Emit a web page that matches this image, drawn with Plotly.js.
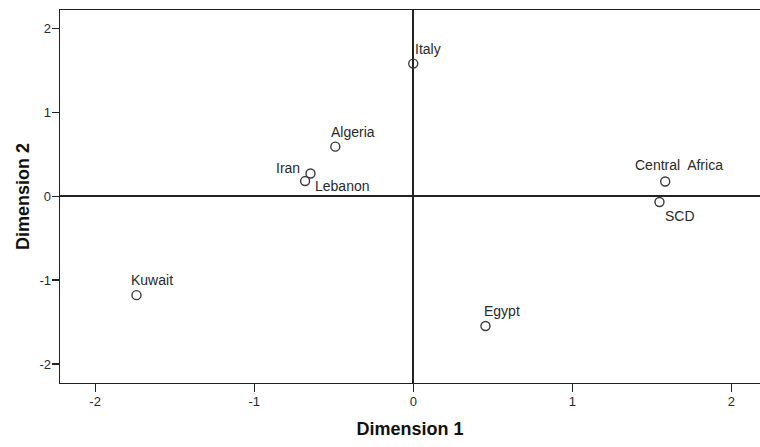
<!DOCTYPE html>
<html>
<head>
<meta charset="utf-8">
<script src="https://cdn.plot.ly/plotly-3.0.1.min.js"></script>
<style>html,body{margin:0;padding:0;background:#fff;}#chart{width:760px;height:447px;}</style>
</head>
<body>
<div id="chart"></div>
<script>
// Data
var countries = ["Italy", "Algeria", "Iran", "Lebanon", "Central  Africa", "SCD", "Kuwait", "Egypt"];
var dim1 = [0.00, -0.49, -0.646, -0.68, 1.584, 1.548, -1.74, 0.454];
var dim2 = [1.58, 0.59, 0.27, 0.18, 0.175, -0.07, -1.18, -1.547];
var tickVals = [-2, -1, 0, 1, 2];

// Label placement (style only)
var labelStyle = {
  "Italy": {xanchor: "left", xshift: 0, yshift: 15},
  "Algeria": {xanchor: "left", xshift: -6, yshift: 15},
  "Iran": {xanchor: "right", xshift: -9, yshift: 6},
  "Lebanon": {xanchor: "left", xshift: 8, yshift: -5},
  "Central  Africa": {xanchor: "center", xshift: 14, yshift: 16},
  "SCD": {xanchor: "left", xshift: 4, yshift: -14},
  "Kuwait": {xanchor: "left", xshift: -8, yshift: 15},
  "Egypt": {xanchor: "left", xshift: -3, yshift: 15}
};

var font = "Liberation Sans, Arial, sans-serif";

var trace = {
  x: dim1, y: dim2, type: "scatter", mode: "markers",
  marker: {symbol: "circle-open", size: 9, color: "#3a3a3a", line: {width: 1.4, color: "#3a3a3a"}},
  hoverinfo: "text", text: countries, showlegend: false
};

var annotations = countries.map(function (c, i) {
  var s = labelStyle[c];
  return {
    x: dim1[i], y: dim2[i], xref: "x", yref: "y", text: c, showarrow: false,
    xanchor: s.xanchor, yanchor: "middle", xshift: s.xshift, yshift: s.yshift,
    font: {family: font, size: 14, color: "#2a2a2a"}
  };
});

var layout = {
  width: 760, height: 447,
  margin: {l: 60, r: 0, t: 10, b: 64},
  paper_bgcolor: "#fff", plot_bgcolor: "#fff",
  font: {family: font, color: "#222"},
  xaxis: {
    range: [-2.221, 2.18], tickvals: tickVals, ticktext: tickVals.map(String),
    showgrid: false, zeroline: true, zerolinecolor: "#222", zerolinewidth: 1.6,
    showline: true, mirror: true, linecolor: "#222", linewidth: 1.3,
    ticks: "outside", ticklen: 8, tickcolor: "#222", tickwidth: 1.2,
    tickfont: {family: font, size: 13, color: "#2a2a2a"}, ticklabelstandoff: -2,
    title: {text: "<b>Dimension 1</b>", font: {family: font, size: 18, color: "#111"}, standoff: 14}
  },
  yaxis: {
    range: [-2.227, 2.219], tickvals: tickVals, ticktext: tickVals.map(String),
    showgrid: false, zeroline: true, zerolinecolor: "#222", zerolinewidth: 2,
    showline: true, mirror: false, linecolor: "#222", linewidth: 1.3,
    ticks: "outside", ticklen: 7, tickcolor: "#222", tickwidth: 1.2,
    tickfont: {family: font, size: 13, color: "#2a2a2a"}, ticklabelstandoff: -2,
    title: {text: "<b>Dimension 2</b>", font: {family: font, size: 18, color: "#111"}, standoff: 5}
  },
  annotations: annotations
};

Plotly.newPlot("chart", [trace], layout, {displayModeBar: false, staticPlot: true});
</script>
</body>
</html>
